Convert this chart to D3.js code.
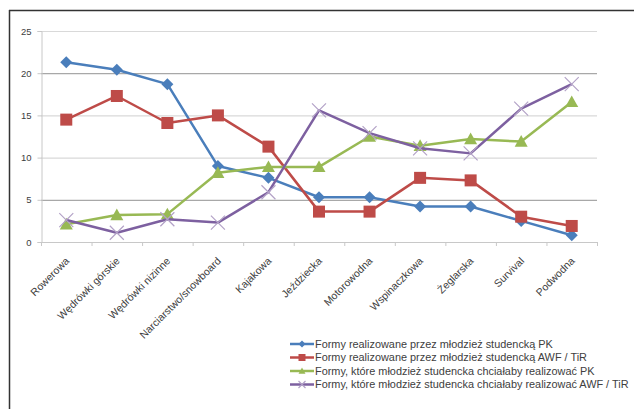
<!DOCTYPE html>
<html>
<head>
<meta charset="utf-8">
<script src="https://cdn.jsdelivr.net/npm/d3@7"></script>
<style>
  body { margin: 0; background: #fff; }
  text { font-family: "Liberation Sans", Arial, sans-serif; fill: #404040; }
</style>
</head>
<body>
<svg id="chart" width="634" height="409"></svg>
<script>
//categories on the x axis
var categories = ["Rowerowa", "Wędrówki górskie", "Wędrówki nizinne", "Narciarstwo/snowboard",
    "Kajakowa", "Jeździecka", "Motorowodna", "Wspinaczkowa", "Żeglarska", "Survival", "Podwodna"];

//series values
var pkDone   = [21.3, 20.4, 18.7, 9.0, 7.6, 5.3, 5.3, 4.2, 4.2, 2.5, 0.8];
var awfDone  = [14.5, 17.3, 14.1, 15.0, 11.3, 3.6, 3.6, 7.6, 7.3, 3.0, 1.9];
var pkWant   = [2.1, 3.2, 3.3, 8.2, 8.9, 8.9, 12.5, 11.4, 12.2, 11.9, 16.6];
var awfWant  = [2.6, 1.1, 2.7, 2.3, 5.9, 15.6, 12.9, 11.1, 10.5, 15.8, 18.7];

var seriesNames = [
    "Formy realizowane przez młodzież studencką PK",
    "Formy realizowane przez młodzież studencką AWF / TiR",
    "Formy, które młodzież studencka chciałaby realizować PK",
    "Formy, które młodzież studencka chciałaby realizować AWF / TiR"
];

var yTicks = [0, 5, 10, 15, 20, 25];

var svg = d3.select("#chart");

//outer frame (only top and left edges visible)
svg.append("line").attr("x1", 9).attr("x2", 634).attr("y1", 10.5).attr("y2", 10.5)
    .attr("stroke", "#333").attr("stroke-width", 1.5);
svg.append("line").attr("x1", 9.5).attr("x2", 9.5).attr("y1", 10).attr("y2", 409)
    .attr("stroke", "#333").attr("stroke-width", 1.5);

var plotLeft = 41, plotRight = 597, plotTop = 31, plotBottom = 242;

var x = d3.scaleBand().domain(categories).range([plotLeft, plotRight]);
var y = d3.scaleLinear().domain([0, 25]).range([plotBottom, plotTop]);

//gridlines
svg.append("g").selectAll("line").data(yTicks.slice(1)).enter().append("line")
    .attr("x1", plotLeft).attr("x2", plotRight)
    .attr("y1", function(d) { return y(d) + 0.5; })
    .attr("y2", function(d) { return y(d) + 0.5; })
    .attr("stroke", function(d) { return (d === 20 || d === 5) ? "#a8a8a8" : "#d9d9d9"; })
    .attr("stroke-width", 1.2);

//y axis
var yAxis = d3.axisLeft(y).tickValues(yTicks).tickSize(4).tickPadding(6);
var gy = svg.append("g").attr("transform", "translate(" + (plotLeft + 0.5) + ",0)").call(yAxis);
gy.select(".domain").attr("stroke", "#c8c8c8");
gy.selectAll(".tick line").attr("stroke", "#c8c8c8");
gy.selectAll("text").style("font-size", "9.5px").attr("fill", "#404040")
    .style("font-family", "Liberation Sans, Arial, sans-serif");

//x axis
var xTickPos = categories.map(function(c) { return x(c); }).concat([plotRight]);
var gx = svg.append("g");
gx.append("line").attr("x1", plotLeft).attr("x2", plotRight).attr("y1", plotBottom + 0.5).attr("y2", plotBottom + 0.5)
    .attr("stroke", "#c8c8c8");
gx.selectAll(".xt").data(xTickPos).enter().append("line").attr("class", "xt")
    .attr("x1", function(d) { return d + 0.5; }).attr("x2", function(d) { return d + 0.5; })
    .attr("y1", plotBottom).attr("y2", plotBottom + 4).attr("stroke", "#c8c8c8");
gx.selectAll(".xl").data(categories).enter().append("text").attr("class", "xl")
    .attr("transform", function(d) {
        return "translate(" + (x(d) + x.bandwidth() / 2 + 1) + "," + (plotBottom + 17) + ") rotate(-45)";
    })
    .attr("text-anchor", "end")
    .attr("dy", "0.35em")
    .style("font-size", "10.5px")
    .text(function(d) { return d; });

//series
var colors = ["#4a7ebb", "#be4b48", "#98b954", "#7d60a0"];
var allSeries = [pkDone, awfDone, pkWant, awfWant];

var line = d3.line()
    .x(function(d, i) { return x(categories[i]) + x.bandwidth() / 2; })
    .y(function(d) { return y(d); });

function marker(g, kind, color, cx, cy, s) {
    if (kind === 0) {
        g.append("path").attr("d", "M" + cx + "," + (cy - s) + "L" + (cx + s) + "," + cy + "L" + cx + "," + (cy + s) + "L" + (cx - s) + "," + cy + "Z")
            .attr("fill", color);
    } else if (kind === 1) {
        g.append("rect").attr("x", cx - s).attr("y", cy - s).attr("width", 2 * s).attr("height", 2 * s)
            .attr("fill", color);
    } else if (kind === 2) {
        g.append("path").attr("d", "M" + cx + "," + (cy - s) + "L" + (cx + s) + "," + (cy + s * 0.8) + "L" + (cx - s) + "," + (cy + s * 0.8) + "Z")
            .attr("fill", color);
    } else {
        g.append("path").attr("d", "M" + (cx - s) + "," + (cy - s) + "L" + (cx + s) + "," + (cy + s) + "M" + (cx + s) + "," + (cy - s) + "L" + (cx - s) + "," + (cy + s))
            .attr("stroke", "#b3a2c7").attr("stroke-width", 1.2).attr("fill", "none");
    }
}

var sizes = [6, 6, 6.5, 7];
allSeries.forEach(function(data, k) {
    var g = svg.append("g");
    g.append("path").datum(data).attr("d", line)
        .attr("fill", "none").attr("stroke", colors[k]).attr("stroke-width", 2.5)
        .attr("stroke-linejoin", "round");
    data.forEach(function(v, i) {
        marker(g, k, colors[k], x(categories[i]) + x.bandwidth() / 2, y(v), sizes[k]);
    });
});

//legend
var lg = svg.append("g").attr("transform", "translate(290,344)");
seriesNames.forEach(function(name, k) {
    var row = lg.append("g").attr("transform", "translate(0," + (k * 13.5) + ")");
    row.append("line").attr("x1", 0).attr("x2", 24).attr("y1", 0).attr("y2", 0)
        .attr("stroke", colors[k]).attr("stroke-width", 2.5);
    marker(row, k, colors[k], 12, 0, 3.5);
    row.append("text").attr("x", 25).attr("y", 0).attr("dy", "0.35em")
        .style("font-size", "10.9px").text(name);
});
</script>
</body>
</html>
